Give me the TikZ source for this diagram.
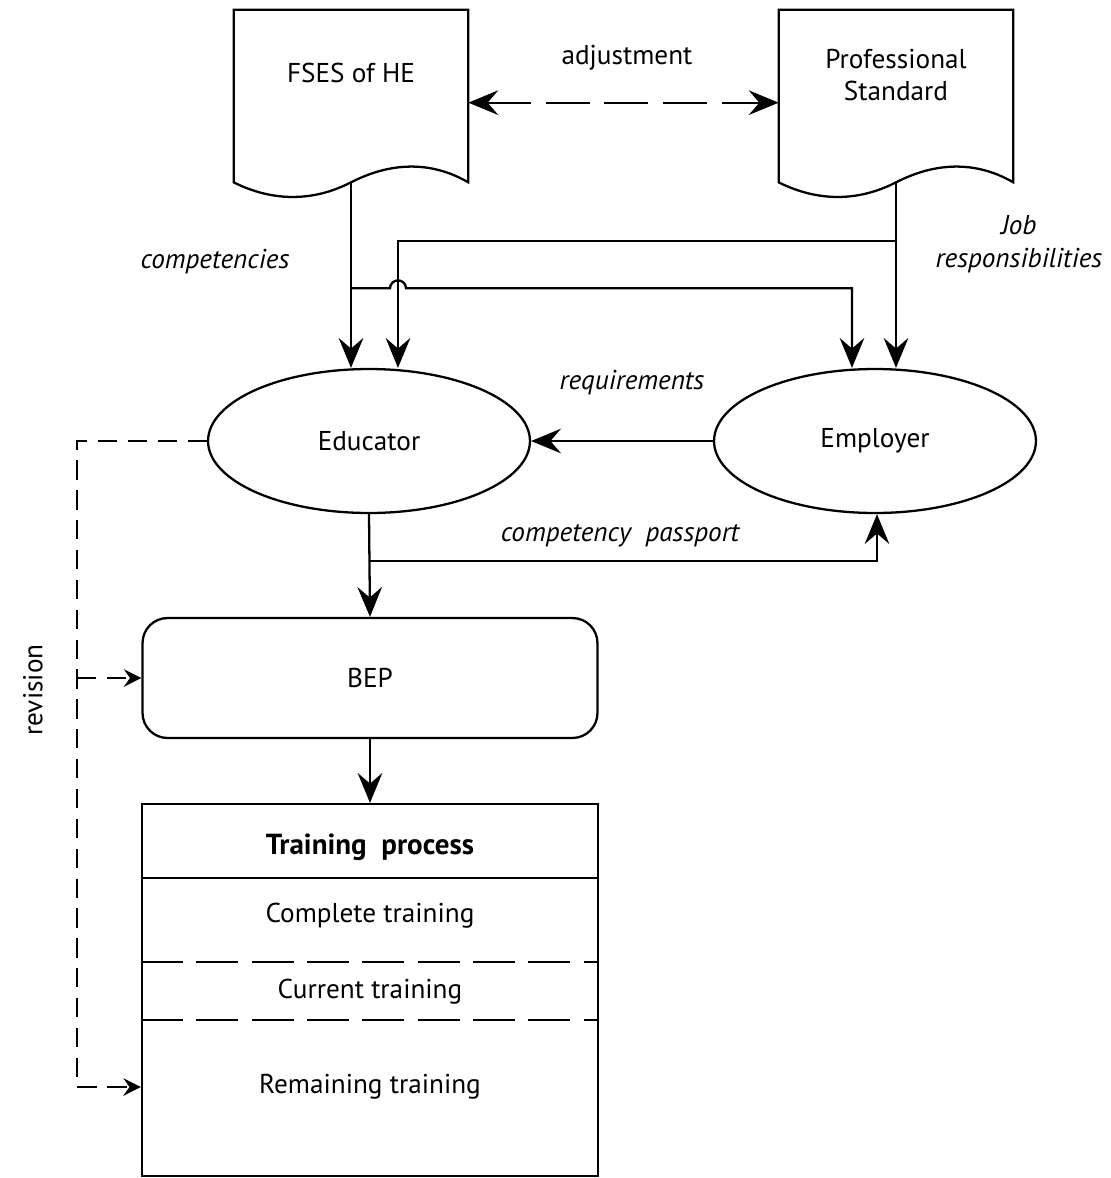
\documentclass[tikz,border=0pt]{standalone}
\usepackage{fontspec}
\setmainfont{PT Sans}
\usetikzlibrary{shapes,arrows.meta,positioning,calc}
\newcommand{\dfont}{\fontsize{15.5}{18.5}\selectfont}
% outline of a document symbol round an empty node
\newcommand{\docshape}[1]{%
  \draw[line] (#1.south west) -- (#1.north west) -- (#1.north east) -- (#1.south east)
    .. controls +(-38,-22) and +(39,-20) .. (#1.south)
    .. controls +(-39,20) and +(38,19) .. (#1.south west) -- cycle;}

\begin{document}
\begin{tikzpicture}[x=0.02cm,y=-0.02cm,
  every node/.style={font=\dfont},
  line/.style={line width=1.3pt},
  arr/.style={line,-{Stealth[length=17pt,width=14pt,inset=6pt]}},
  adj/.style={line,dash pattern=on 25pt off 8.5pt,
    {Stealth[length=17pt,width=14pt,inset=6pt]}-{Stealth[length=17pt,width=14pt,inset=6pt]}},
  rev/.style={line width=1.1pt,dash pattern=on 11pt off 6pt},
  revarr/.style={rev,-{Stealth[length=10pt,width=10pt,inset=3.5pt]}},
  docbox/.style={minimum width=4.68cm,minimum height=3.44cm,inner sep=0},
  oval/.style={ellipse,draw,line,minimum width=6.44cm,minimum height=2.88cm,inner sep=0},
  bepbox/.style={rectangle,rounded corners=0.5cm,draw,line,minimum width=9.1cm,minimum height=2.4cm},
  procbox/.style={rectangle,draw,line,minimum width=9.12cm,minimum height=7.44cm},
  lbl/.style={font=\dfont\itshape}]
  \useasboundingbox (0,0) rectangle (1111,1178);

  % documents
  \node[docbox] (fses) at (351,96) {}; \docshape{fses}
  \node[docbox] (prof) at (896,96) {}; \docshape{prof}
  \node (fsestxt) at (351,73) {FSES of HE};
  \node[align=center] (proftxt) at (896,75) {Professional\\Standard};
  \draw[adj] ($(fses.north east)+(0,93)$) -- ($(prof.north west)+(0,93)$);
  \node (adjtxt) at (627,58) {adjustment};

  % participants
  \node[oval] (edu) at (369,441) {Educator};
  \node[oval] (emp) at (875,441) {Employer};
  \node[bepbox] (bep) at (370,678) {BEP};
  \node[procbox] (train) at (370,990) {};

  % flows
  \coordinate (fsbr) at ($(fses.south)+(0,106)$);
  \coordinate (psbr) at ($(prof.south)+(0,59)$);
  \draw[arr] (fses.south) -- (fses.south |- edu.north);
  \draw[arr] (prof.south) -- (prof.south |- emp.north);
  \draw[arr] (psbr) -| ($(edu.north)+(29,0)$);
  \draw[arr] (fsbr) -- ++(39,0) arc[start angle=180,end angle=360,radius=8]
    -| ($(emp.north)+(-23,0)$);
  \node[lbl] (comptxt) at (215,262) {competencies};
  \node[lbl,align=center] (jobtxt) at (1019,244) {Job\\responsibilities};

  \draw[arr] (emp.west) -- (edu.east);
  \node[lbl] (reqtxt) at (632,383) {requirements};

  \coordinate (pass) at ($(edu.south)+(0,47)$);
  \draw[arr] (edu.south) -- (bep.north);
  \draw[arr] (pass) -| ($(emp.south)+(2,0)$);
  \node[lbl] (passtxt) at (620,536) {competency\ \ passport};
  \draw[arr] (bep.south) -- (train.north);

  % training process
  \draw[line] ($(train.north west)+(0,75)$) -- ($(train.north east)+(0,75)$);
  \foreach \dy in {159,217}
    \draw[line,dash pattern=on 24pt off 7.5pt] ($(train.north west)+(0,\dy)$) -- ($(train.north east)+(0,\dy)$);
  \node[font=\fontsize{16.5}{19}\selectfont\bfseries] (trhead) at (370,847) {Training\ \ process};
  \node (cmpl) at (370,916) {Complete training};
  \node (curr) at (370,992) {Current training};
  \node (remtxt) at (370,1087) {Remaining training};

  % revision loop
  \coordinate (revtop) at ($(edu.west)+(-130,0)$);
  \draw[revarr] (edu.west) -- (revtop) |- (remtxt -| train.west);
  \draw[revarr] (revtop |- bep.west) -- (bep.west);
  \node[rotate=90] (revtxt) at (33,690) {revision};
\end{tikzpicture}
\end{document}
